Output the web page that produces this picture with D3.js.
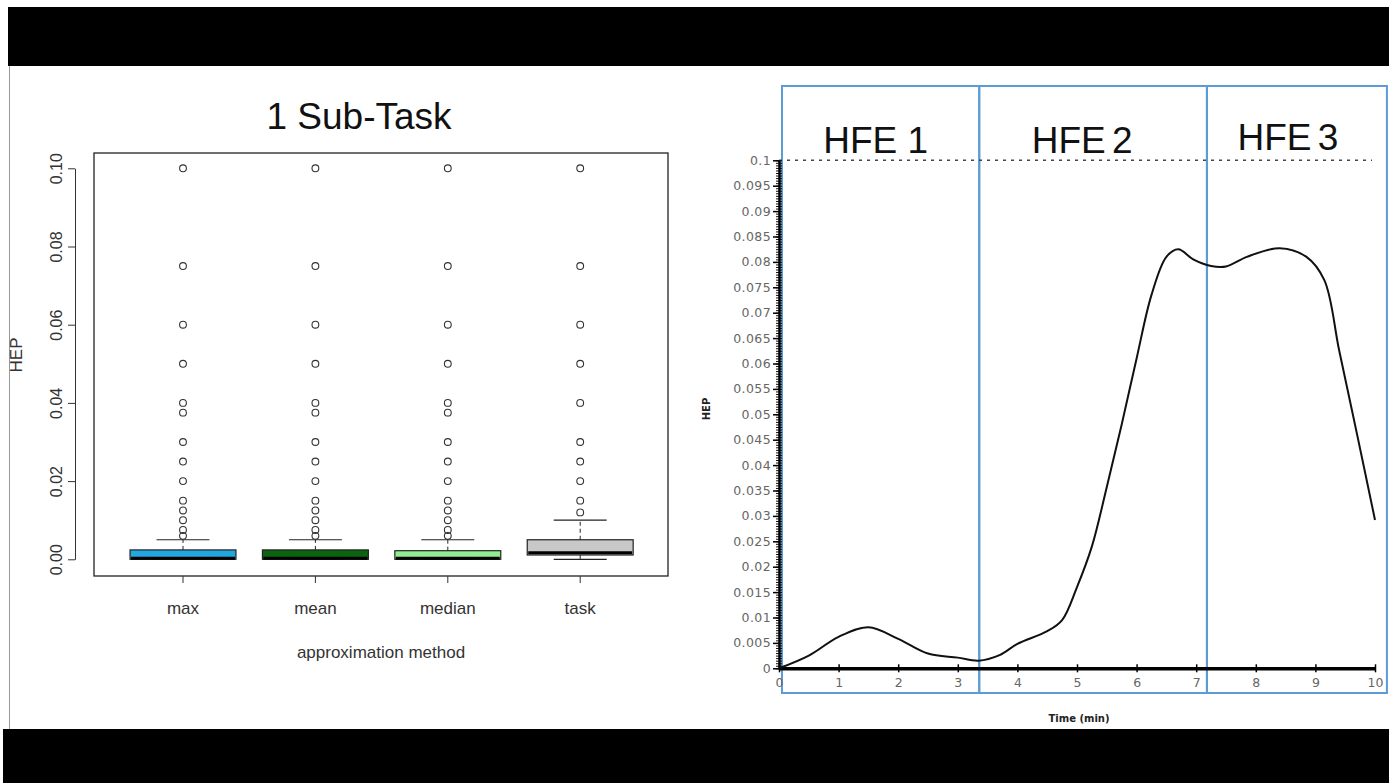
<!DOCTYPE html>
<html>
<head>
<meta charset="utf-8">
<script src="https://cdn.jsdelivr.net/npm/d3@7"></script>
<style>
  body { margin: 0; background: #fff; }
  svg { display: block; }
</style>
</head>
<body>
<script>
// ---- left panel data (boxplot, 1 Sub-Task) ----
var methods = ["max", "mean", "median", "task"];
var boxColors = ["#22a7e0", "#0b640f", "#90ee90", "#c8c8c8"];
var q1 = [0, 0, 0, 0.0011];
var medians = [0.0003, 0.0003, 0.0003, 0.0017];
var q3 = [0.0024, 0.0024, 0.0022, 0.005];
var whiskLo = [0, 0, 0, 0];
var whiskHi = [0.005, 0.005, 0.005, 0.01];
var outliers = [
  [0.1, 0.075, 0.06, 0.05, 0.04, 0.0375, 0.03, 0.025, 0.02, 0.015, 0.0125, 0.01, 0.0075, 0.006],
  [0.1, 0.075, 0.06, 0.05, 0.04, 0.0375, 0.03, 0.025, 0.02, 0.015, 0.0125, 0.01, 0.0075, 0.006],
  [0.1, 0.075, 0.06, 0.05, 0.04, 0.0375, 0.03, 0.025, 0.02, 0.015, 0.0125, 0.01, 0.0075, 0.006],
  [0.1, 0.075, 0.06, 0.05, 0.04, 0.03, 0.025, 0.02, 0.015, 0.012]
];
var leftTicks = [0, 0.02, 0.04, 0.06, 0.08, 0.10];

// ---- right panel data (HEP over time) ----
var timeMin = [0, 0.5, 1.0, 1.5, 2.0, 2.5, 3.0, 3.35, 3.7, 4.0, 4.5, 4.75, 5.0, 5.25, 5.5, 5.75, 6.0, 6.25, 6.5, 6.7, 6.95, 7.25, 7.5, 7.85, 8.4, 8.85, 9.15, 9.4, 9.7, 10];
var hep = [0, 0.0025, 0.0062, 0.0081, 0.0058, 0.0029, 0.0021, 0.0015, 0.0026, 0.0048, 0.0073, 0.0095, 0.016, 0.024, 0.0357, 0.048, 0.061, 0.0735, 0.081, 0.0825, 0.0805, 0.0792, 0.0791, 0.081, 0.0827, 0.081, 0.0764, 0.0625, 0.046, 0.0292];
var hfeNames = ["HFE 1", "HFE 2", "HFE 3"];
var hfeBounds = [0.05, 3.36, 7.18, 10.2];
var threshold = 0.1;
var rightYTicks = d3.range(0, 21).map(function (i) { return +(i * 0.005).toFixed(3); });
var rightXTicks = [0, 1, 2, 3, 4, 5, 6, 7, 8, 9, 10];

var W = 1389, H = 783;
var svg = d3.select("body").append("svg")
    .attr("width", W)
    .attr("height", H);

svg.append("rect").attr("width", W).attr("height", H).attr("fill", "#fff");

// letterbox bars of the video frame
svg.append("rect").attr("x", 8).attr("y", 7).attr("width", W - 8).attr("height", 59).attr("fill", "#000");
svg.append("rect").attr("x", 3).attr("y", 729).attr("width", W - 3).attr("height", 54).attr("fill", "#000");
svg.append("line").attr("x1", 9.5).attr("x2", 9.5).attr("y1", 66).attr("y2", 729)
    .attr("stroke", "#999").attr("stroke-width", 1);

// ================= LEFT: boxplot =================
var left = svg.append("g").attr("font-family", "'Liberation Sans', Arial, sans-serif");

var yL = d3.scaleLinear().domain([0, 0.1]).range([559.3, 168.3]);
var xL = d3.scaleBand().domain(methods).range([116.8, 646.4]).paddingInner(0).paddingOuter(0);
var bw = xL.bandwidth() * 0.8;

left.append("text")
    .attr("x", 359).attr("y", 129)
    .attr("text-anchor", "middle")
    .attr("font-size", 37)
    .attr("fill", "#111")
    .text("1 Sub-Task");

left.append("rect")
    .attr("x", 94).attr("y", 153)
    .attr("width", 574).attr("height", 423)
    .attr("fill", "none").attr("stroke", "#222").attr("stroke-width", 1.3);

var yAxisL = d3.axisLeft(yL).tickValues(leftTicks).tickFormat(d3.format(".2f")).tickSize(7).tickSizeOuter(0);
var gyL = left.append("g").attr("transform", "translate(75,0)").call(yAxisL);
gyL.select(".domain").attr("stroke", "#333");
gyL.selectAll(".tick line").attr("stroke", "#333");
gyL.selectAll(".tick text")
    .attr("font-size", 16)
    .attr("font-family", "'Liberation Sans', Arial, sans-serif")
    .attr("fill", "#333")
    .attr("transform", "rotate(-90)")
    .attr("x", 0).attr("y", -13)
    .attr("dy", 0)
    .attr("text-anchor", "middle");

var xAxisL = d3.axisBottom(xL).tickSize(7).tickSizeOuter(0).tickFormat("");
var gxL = left.append("g").attr("transform", "translate(0,576)").call(xAxisL);
gxL.select(".domain").remove();
gxL.selectAll(".tick line").attr("stroke", "#333");

left.selectAll(".xlab").data(methods).enter().append("text")
    .attr("class", "xlab")
    .attr("x", function (d) { return xL(d) + xL.bandwidth() / 2; })
    .attr("y", 614)
    .attr("text-anchor", "middle")
    .attr("font-size", 17)
    .attr("fill", "#333")
    .text(function (d) { return d; });

left.append("text")
    .attr("x", 381).attr("y", 658)
    .attr("text-anchor", "middle")
    .attr("font-size", 17)
    .attr("fill", "#333")
    .text("approximation method");

left.append("text")
    .attr("transform", "translate(22,355) rotate(-90)")
    .attr("text-anchor", "middle")
    .attr("font-size", 17)
    .attr("fill", "#333")
    .text("HEP");

methods.forEach(function (m, i) {
    var g = left.append("g");
    var cx = xL(m) + xL.bandwidth() / 2;
    // whiskers (dashed) and staples
    g.append("line")
        .attr("x1", cx).attr("x2", cx)
        .attr("y1", yL(q3[i])).attr("y2", yL(whiskHi[i]))
        .attr("stroke", "#222").attr("stroke-dasharray", "4,3");
    g.append("line")
        .attr("x1", cx).attr("x2", cx)
        .attr("y1", yL(q1[i])).attr("y2", yL(whiskLo[i]))
        .attr("stroke", "#222").attr("stroke-dasharray", "4,3");
    [whiskHi[i], whiskLo[i]].forEach(function (v) {
        g.append("line")
            .attr("x1", cx - bw / 4).attr("x2", cx + bw / 4)
            .attr("y1", yL(v)).attr("y2", yL(v))
            .attr("stroke", "#222").attr("stroke-width", 1.2);
    });
    // box
    g.append("rect")
        .attr("x", cx - bw / 2).attr("width", bw)
        .attr("y", yL(q3[i])).attr("height", yL(q1[i]) - yL(q3[i]))
        .attr("fill", boxColors[i]).attr("stroke", "#222").attr("stroke-width", 1.2);
    g.append("line")
        .attr("x1", cx - bw / 2 + 1).attr("x2", cx + bw / 2 - 1)
        .attr("y1", yL(medians[i])).attr("y2", yL(medians[i]))
        .attr("stroke", "#000").attr("stroke-width", 3);
    // outliers
    g.selectAll("circle").data(outliers[i]).enter().append("circle")
        .attr("cx", cx)
        .attr("cy", function (d) { return yL(d); })
        .attr("r", 3.4)
        .attr("fill", "none").attr("stroke", "#333").attr("stroke-width", 1.1);
});

// ================= RIGHT: HEP curve =================
var right = svg.append("g");
var xR = d3.scaleLinear().domain([0, 10]).range([779, 1375]);
var yR = d3.scaleLinear().domain([0, 0.1]).range([668.3, 160.3]);
var blue = "#5b9bd8";
var labelShift = [-5, -11, -9];

// HFE panels
for (var k = 0; k < hfeNames.length; k++) {
    right.append("rect")
        .attr("x", xR(hfeBounds[k])).attr("y", 86)
        .attr("width", xR(hfeBounds[k + 1]) - xR(hfeBounds[k]))
        .attr("height", 607)
        .attr("fill", "none").attr("stroke", blue).attr("stroke-width", 2);
    right.append("text")
        .attr("x", (xR(hfeBounds[k]) + xR(hfeBounds[k + 1])) / 2 + labelShift[k])
        .attr("y", k === 2 ? 150 : 153)
        .attr("text-anchor", "middle")
        .attr("font-family", "'Liberation Sans', Arial, sans-serif")
        .attr("font-size", 37)
        .attr("word-spacing", k === 0 ? "0px" : "-4px")
        .attr("fill", "#111")
        .text(hfeNames[k]);
}

// threshold line
right.append("line")
    .attr("x1", xR(0)).attr("x2", xR(9.95))
    .attr("y1", yR(threshold)).attr("y2", yR(threshold))
    .attr("stroke", "#444").attr("stroke-width", 1.6).attr("stroke-dasharray", "3,5");

// minor ticks on y axis
var yMinor = d3.axisLeft(yR).tickValues(d3.range(0, 201).map(function (i) { return i * 0.0005; }))
    .tickSize(3).tickSizeOuter(0).tickFormat("");
var gym = right.append("g").attr("transform", "translate(779,0)").call(yMinor);
gym.select(".domain").remove();
gym.selectAll(".tick line").attr("stroke", "#111").attr("stroke-width", 1).attr("x2", 3).attr("x1", -3);

var yAxisR = d3.axisLeft(yR).tickValues(rightYTicks).tickSize(6).tickSizeOuter(0)
    .tickFormat(function (d) { return d3.format("~g")(d); });
var gyR = right.append("g").attr("transform", "translate(779,0)").call(yAxisR);
gyR.select(".domain").attr("stroke", "#000").attr("stroke-width", 2.5);
gyR.selectAll(".tick line").attr("stroke", "#000").attr("stroke-width", 1.5);
gyR.selectAll(".tick text")
    .attr("font-family", "'DejaVu Sans', Verdana, sans-serif")
    .attr("font-size", 12.5)
    .attr("letter-spacing", "0.4px")
    .attr("fill", "#666")
    .attr("x", -8);

var xAxisR = d3.axisBottom(xR).tickValues(rightXTicks).tickSize(4).tickSizeOuter(0);
var gxR = right.append("g").attr("transform", "translate(0,668.3)").call(xAxisR);
gxR.select(".domain").attr("stroke", "#000").attr("stroke-width", 3.5);
gxR.selectAll(".tick line").attr("stroke", "#000").attr("stroke-width", 1.5).attr("y1", -4);
gxR.selectAll(".tick text")
    .attr("font-family", "'DejaVu Sans', Verdana, sans-serif")
    .attr("font-size", 12.5)
    .attr("fill", "#666")
    .attr("y", 10);

right.append("text")
    .attr("x", 1079).attr("y", 722)
    .attr("text-anchor", "middle")
    .attr("font-family", "'DejaVu Sans', Verdana, sans-serif")
    .attr("font-weight", "bold")
    .attr("font-size", 10)
    .attr("fill", "#222")
    .text("Time (min)");

right.append("text")
    .attr("transform", "translate(710,409) rotate(-90)")
    .attr("text-anchor", "middle")
    .attr("font-family", "'DejaVu Sans', Verdana, sans-serif")
    .attr("font-weight", "bold")
    .attr("font-size", 10)
    .attr("fill", "#222")
    .text("HEP");

var line = d3.line()
    .x(function (d, i) { return xR(timeMin[i]); })
    .y(function (d) { return yR(d); })
    .curve(d3.curveCatmullRom.alpha(0.5));

right.append("path")
    .datum(hep)
    .attr("d", line)
    .attr("fill", "none")
    .attr("stroke", "#111")
    .attr("stroke-width", 2);
</script>
</body>
</html>
